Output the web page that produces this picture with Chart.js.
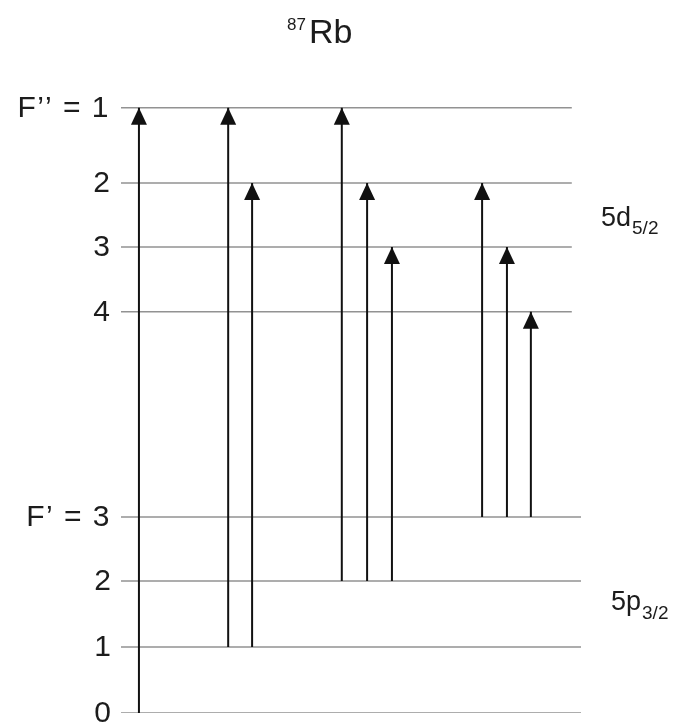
<!DOCTYPE html>
<html>
<head>
<meta charset="utf-8">
<title>87Rb hyperfine levels</title>
<script src="https://cdn.jsdelivr.net/npm/chart.js@4.4.0/dist/chart.umd.min.js"></script>
<style>
  html, body { margin: 0; padding: 0; background: #fff; }
  #wrap { position: relative; width: 684px; height: 727px; }
</style>
</head>
<body>
<div id="wrap"><canvas id="levels"></canvas></div>
<script>
// 5d5/2 hyperfine levels (top to bottom) and their energies in plot units
const upperLabels = ['F\u2019\u2019 = 1', '2', '3', '4'];
const upperEnergy = [91.7, 80.3, 70.6, 60.8];

// 5p3/2 hyperfine levels
const lowerLabels = ['F\u2019 = 3', '2', '1', '0'];
const lowerEnergy = [29.7, 20.0, 10.0, 0.0];

// allowed transitions: index into lowerEnergy -> index into upperEnergy
const fromLevel = [3, 2, 2, 1, 1, 1, 0, 0, 0];
const toLevel   = [0, 0, 1, 0, 1, 2, 1, 2, 3];
const arrowX    = [3.9, 23.3, 28.5, 48.0, 53.5, 58.9, 78.5, 83.9, 89.1];

const FONT = '"Liberation Sans", Arial, sans-serif';
const levelColor = 'rgba(100,100,100,0.7)';

// one flat line per level
function levelSet(energy, xEnd){
  return energy.map(e => ({
    data: [{x: 0, y: e}, {x: xEnd, y: e}],
    borderColor: levelColor,
    borderWidth: 1.4,
    pointRadius: 0,
    showLine: true,
    order: 2
  }));
}

const arrowSets = arrowX.map((x, i) => ({
  data: [{x: x, y: lowerEnergy[fromLevel[i]]}, {x: x, y: upperEnergy[toLevel[i]]}],
  borderColor: '#111',
  borderWidth: 2,
  pointRadius: 0,
  showLine: true,
  isArrow: true,
  order: 1
}));

// arrow heads on top of each transition
const arrowHeads = {
  id: 'arrowHeads',
  afterDatasetsDraw(chart){
    const ctx = chart.ctx;
    ctx.save();
    ctx.fillStyle = '#111';
    chart.data.datasets.forEach((ds, i) => {
      if(!ds.isArrow) return;
      const tip = chart.getDatasetMeta(i).data[1];
      ctx.beginPath();
      ctx.moveTo(tip.x, tip.y);
      ctx.lineTo(tip.x - 8, tip.y + 17);
      ctx.lineTo(tip.x + 8, tip.y + 17);
      ctx.closePath();
      ctx.fill();
    });
    ctx.restore();
  }
};

// text with a given letter spacing
function spaced(ctx, text, x, y, gap){
  ctx.letterSpacing = gap + 'px';
  ctx.fillText(text, x, y);
  ctx.letterSpacing = '0px';
}

// level names, state names and the isotope title
const levelText = {
  id: 'levelText',
  afterDraw(chart){
    const ctx = chart.ctx;
    const y = chart.scales.y;
    ctx.save();
    ctx.fillStyle = '#1c1c1c';
    ctx.textBaseline = 'middle';
    ctx.textAlign = 'right';
    ctx.font = '30px ' + FONT;
    upperLabels.forEach((t, i) => spaced(ctx, t, 110, y.getPixelForValue(upperEnergy[i]) + 1, i === 0 ? 1.5 : 0));
    lowerLabels.forEach((t, i) => spaced(ctx, t, 111, y.getPixelForValue(lowerEnergy[i]) + 1, i === 0 ? 1.5 : 0));

    ctx.textAlign = 'left';
    ctx.textBaseline = 'alphabetic';
    ctx.font = '17px ' + FONT;
    ctx.fillText('87', 287, 30);
    ctx.font = '34px ' + FONT;
    ctx.fillText('Rb', 309, 43);

    ctx.font = '27px ' + FONT;
    ctx.fillText('5d', 601, 226);
    let w = ctx.measureText('5d').width;
    ctx.font = '19px ' + FONT;
    ctx.fillText('5/2', 601 + w + 1, 234);

    ctx.font = '27px ' + FONT;
    ctx.fillText('5p', 611, 610);
    w = ctx.measureText('5p').width;
    ctx.font = '19px ' + FONT;
    ctx.fillText('3/2', 611 + w + 1, 619);
    ctx.restore();
  }
};

new Chart(document.getElementById('levels'), {
  type: 'scatter',
  data: {
    datasets: [...levelSet(upperEnergy, 98), ...levelSet(lowerEnergy, 100), ...arrowSets]
  },
  options: {
    responsive: true,
    maintainAspectRatio: false,
    animation: false,
    layout: {padding: {left: 121, right: 103, top: 53, bottom: 14}},
    plugins: {legend: {display: false}, tooltip: {enabled: false}},
    scales: {
      x: {type: 'linear', min: 0, max: 100, display: false},
      y: {type: 'linear', min: 0, max: 100, display: false}
    }
  },
  plugins: [arrowHeads, levelText]
});
</script>
</body>
</html>
